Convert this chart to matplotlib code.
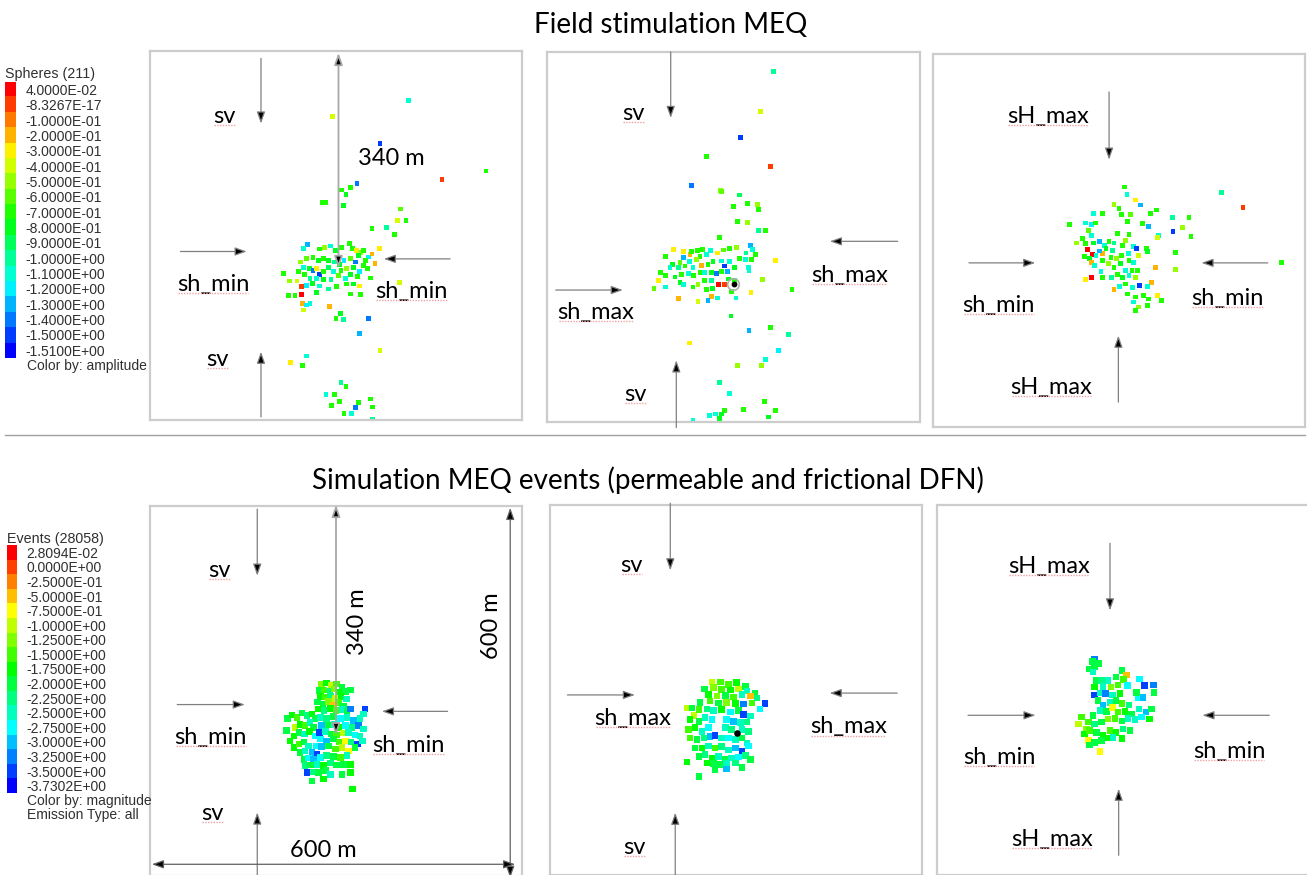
import numpy as np
import matplotlib
matplotlib.use("Agg")
import matplotlib.pyplot as plt
from matplotlib.colors import ListedColormap, BoundaryNorm, hsv_to_rgb
from matplotlib.lines import Line2D
from matplotlib.transforms import IdentityTransform

plt.rcParams["font.family"] = ["Lato", "DejaVu Sans"]

# ------------------------------------------------------------------
# Colour legends (top -> bottom as shown in the viewer)
# ------------------------------------------------------------------
field_levels = [4.0e-02, -8.3267e-17, -0.1, -0.2, -0.3, -0.4, -0.5, -0.6, -0.7,
                -0.8, -0.9, -1.0, -1.1, -1.2, -1.3, -1.4, -1.5, -1.51]
field_labels = ["4.0000E-02", "-8.3267E-17", "-1.0000E-01", "-2.0000E-01",
                "-3.0000E-01", "-4.0000E-01", "-5.0000E-01", "-6.0000E-01",
                "-7.0000E-01", "-8.0000E-01", "-9.0000E-01", "-1.0000E+00",
                "-1.1000E+00", "-1.2000E+00", "-1.3000E+00", "-1.4000E+00",
                "-1.5000E+00", "-1.5100E+00"]
sim_levels = [2.8094e-02, 0.0, -0.25, -0.5, -0.75, -1.0, -1.25, -1.5, -1.75,
              -2.0, -2.25, -2.5, -2.75, -3.0, -3.25, -3.5, -3.7302]
sim_labels = ["2.8094E-02", "0.0000E+00", "-2.5000E-01", "-5.0000E-01",
              "-7.5000E-01", "-1.0000E+00", "-1.2500E+00", "-1.5000E+00",
              "-1.7500E+00", "-2.0000E+00", "-2.2500E+00", "-2.5000E+00",
              "-2.7500E+00", "-3.0000E+00", "-3.2500E+00", "-3.5000E+00",
              "-3.7302E+00"]

# ------------------------------------------------------------------
# Event locations in each 600 m x 600 m view (x, depth-like y, value)
# ------------------------------------------------------------------
field_side = np.array([
    (254, 314, -1.3), (248, 321, -1.1), (274, 322, -0.7), (281, 319, -0.5),
    (291, 317, -1.1), (299, 324, -0.8), (309, 319, -0.7), (322, 313, -0.7),
    (326, 321, -0.7), (333, 324, -0.3), (339, 327, -0.5), (344, 324, -0.7),
    (336, 333, -0.8), (353, 335, -1.2), (358, 330, -0.2), (370, 321, -0.3),
    (363, 345, -0.2), (348, 340, -0.7), (331, 343, -1.4), (323, 337, -0.6),
    (313, 340, -1.2), (306, 347, -0.8), (297, 343, -1.0), (288, 340, -0.8),
    (280, 337, -0.7), (272, 341, -0.8), (263, 336, -0.7), (253, 337, -0.6),
    (243, 343, -0.5), (248, 352, -1.1), (257, 353, -0.8), (263, 357, -1.4),
    (269, 353, -0.3), (273, 363, -1.5), (280, 359, -0.7), (288, 352, -0.9),
    (296, 359, -1.1), (308, 357, -0.7), (317, 353, -0.5), (328, 352, -0.8),
    (338, 359, -1.2), (344, 349, -0.7), (335, 367, -0.7), (324, 363, -0.8),
    (315, 370, -1.1), (304, 365, -0.6), (292, 371, -1.0), (280, 371, -0.8),
    (269, 370, -1.1), (258, 370, -1.0), (249, 364, -0.7), (239, 359, -0.7),
    (215, 362, -0.7), (225, 374, -0.5), (237, 374, -0.4), (245, 383, 0.0),
    (252, 381, -1.2), (262, 378, -0.8), (274, 382, -1.1), (288, 387, -1.0),
    (301, 383, -0.7), (317, 379, -0.7), (328, 379, -0.8), (338, 382, -0.3),
    (355, 369, -0.7), (351, 353, -0.7), (223, 397, -0.7), (234, 398, -0.7),
    (245, 396, 0.04), (258, 410, -1.1), (246, 410, -0.2), (253, 413, -1.2),
    (248, 421, -0.4), (268, 393, -0.8), (289, 415, -0.2), (307, 427, -0.8),
    (300, 435, -0.7), (312, 437, -1.0), (340, 396, -0.7), (324, 395, -0.7),
    (353, 435, -1.4), (358, 288, -0.7), (382, 287, -1.0), (394, 298, -0.7),
    (417, 80, -1.1), (295, 106, -0.4), (371, 151, -1.5), (542, 195, -0.7),
    (471, 209, 0.0), (334, 215, -1.45), (309, 226, -0.7), (323, 222, -0.7),
    (316, 233, -0.8), (278, 247, -0.7), (284, 246, -0.7), (312, 251, -0.8),
    (404, 257, -0.6), (399, 276, -0.4), (413, 275, -0.7), (402, 377, -0.4),
    (338, 459, -1.3), (371, 487, -0.4), (226, 507, -0.3), (253, 496, -1.1),
    (246, 511, -0.7), (308, 539, -1.0), (316, 546, -0.7), (284, 559, -1.1),
    (298, 559, -0.7), (305, 570, -0.7), (293, 577, -0.7), (336, 572, -0.7),
    (355, 566, -0.7), (359, 579, -0.7), (331, 580, -1.4), (313, 589, -0.7),
    (325, 590, -1.1), (359, 599, -1.0),
])

field_front = np.array([
    (364, 31, -1.05), (343, 96, -0.4), (311, 138, -1.5), (257, 169, -0.7),
    (359, 186, 0.0), (233, 217, -1.4), (279, 224, -0.5), (281, 226, -0.6),
    (309, 232, -0.9), (300, 251, -0.7), (322, 246, -0.7), (339, 247, -0.5),
    (340, 255, -0.7), (306, 275, -0.7), (322, 276, -0.5), (340, 289, -1.0),
    (352, 289, -0.7), (296, 428, -0.8), (325, 451, -1.35), (360, 447, -0.7),
    (388, 458, -1.0), (229, 472, -0.3), (372, 484, -1.2), (352, 499, -1.1),
    (307, 508, -0.5), (345, 508, -0.5), (277, 536, -1.0), (293, 554, -1.1),
    (350, 567, -0.7), (368, 582, -0.7), (356, 592, -0.8), (316, 580, -0.7),
    (285, 582, -0.7), (281, 587, -0.8), (271, 587, -1.1), (262, 590, -1.1),
    (277, 594, -0.8), (235, 598, -1.1),
    (278, 301, -0.7), (203, 320, -0.3), (219, 324, -0.3), (230, 329, -0.2),
    (220, 333, -1.3), (191, 332, -0.7), (233, 323, -0.7), (242, 322, -0.7),
    (250, 320, -0.7), (263, 322, -1.1), (274, 326, -0.3), (284, 321, -0.6),
    (293, 319, -0.7), (305, 317, -0.5), (327, 314, -1.3), (330, 320, -1.1),
    (320, 326, -1.0), (335, 329, -0.7), (309, 335, -0.7), (319, 336, -1.1),
    (329, 336, -0.7), (246, 332, -0.7), (256, 329, -1.1), (240, 336, -0.5),
    (229, 340, -1.1), (214, 342, -0.6), (202, 345, -0.8), (198, 350, -1.1),
    (211, 350, -1.0), (222, 347, -0.7), (235, 349, -1.1), (249, 346, -0.2),
    (259, 345, -0.7), (267, 340, -0.8), (281, 339, -1.1), (286, 347, -1.5),
    (294, 340, -1.1), (301, 350, -0.8), (290, 356, -1.3), (281, 356, -0.7),
    (273, 359, -1.45), (265, 357, -0.8), (254, 357, -1.1), (246, 358, -0.7),
    (236, 362, -0.7), (227, 359, -1.1), (216, 361, -0.7), (206, 365, -0.8),
    (190, 362, -0.7), (183, 357, -0.7), (179, 370, -0.3), (172, 383, -0.6),
    (190, 381, -1.1), (214, 374, -0.8), (219, 377, -1.1), (235, 381, -0.7),
    (243, 377, -0.5), (254, 370, -0.7), (265, 370, -1.0), (276, 377, 0.04),
    (285, 377, 0.0), (292, 368, -0.8), (301, 370, -0.7), (257, 385, -0.7),
    (266, 383, -0.8), (297, 388, -0.7), (304, 399, -1.1), (265, 396, -0.2),
    (259, 403, -1.3), (274, 399, -1.1), (243, 404, -0.4), (211, 400, -0.2),
    (328, 390, -0.3), (325, 354, -1.1), (324, 350, -1.1), (347, 369, -0.5),
    (368, 338, -0.3), (394, 385, -0.7),
])

field_map = np.array([
    (309, 214, -0.7), (313, 226, -1.1), (327, 235, -0.3), (335, 243, -1.3),
    (292, 242, -0.5), (300, 249, -0.7), (273, 257, -0.7), (259, 256, -1.1),
    (304, 258, -0.7), (318, 258, -0.6), (351, 256, -0.7), (361, 251, -0.7),
    (314, 270, -0.7), (246, 272, -1.1), (255, 274, -1.2), (262, 272, -0.7),
    (220, 274, -0.7), (338, 273, -0.7), (347, 278, -1.3), (386, 263, -1.0),
    (413, 263, -0.7), (465, 223, -1.05), (500, 247, 0.0), (403, 279, -0.5),
    (387, 286, -1.5), (416, 294, -0.7), (364, 292, -1.1), (362, 295, -0.4),
    (391, 319, -0.7), (391, 347, -0.5), (562, 336, -0.7), (359, 344, -0.2),
    (353, 367, -0.2), (346, 374, -1.1), (333, 372, -1.5), (251, 284, -0.6),
    (255, 292, -1.1), (241, 297, -0.7), (232, 304, -0.5), (246, 305, -0.7),
    (259, 304, -0.8), (268, 302, -1.3), (276, 308, -1.1), (284, 301, -0.7),
    (292, 304, -1.0), (297, 289, -0.7), (316, 291, -0.7), (311, 300, -0.5),
    (306, 308, -0.7), (323, 309, -1.1), (328, 313, -1.5), (332, 324, -0.4),
    (344, 313, -0.7), (346, 318, -0.8), (249, 314, 0.04), (257, 323, 0.04),
    (244, 326, -0.7), (252, 329, -0.8), (263, 324, -1.1), (273, 321, -0.2),
    (268, 317, -1.3), (279, 313, -0.8), (289, 316, -1.0), (287, 327, -0.7),
    (296, 329, -0.5), (304, 324, -0.7), (315, 321, -1.1), (324, 335, -1.1),
    (316, 332, -0.7), (255, 335, -0.2), (260, 340, -1.1), (273, 332, -0.7),
    (283, 337, -0.5), (292, 343, -0.7), (303, 337, -0.8), (311, 348, -1.1),
    (321, 348, -0.7), (330, 348, -0.7), (271, 350, -1.1), (246, 363, -0.3),
    (255, 360, 0.04), (273, 360, -0.7), (288, 360, -1.0), (297, 355, -0.7),
    (306, 360, -0.8), (316, 356, -1.1), (327, 360, -0.5), (292, 379, -0.2),
    (301, 374, -1.1), (311, 370, -0.7), (322, 375, -1.1), (314, 386, -0.7),
    (327, 391, -0.7), (340, 388, -0.7), (323, 399, -1.1), (332, 407, -0.5),
    (327, 412, -0.7), (346, 404, -0.7), (348, 394, -0.7), (362, 388, -0.3),
    (368, 396, -0.7),
])

sim_side = np.array([
    (277, 289, -1.3), (285, 287, -1.8), (293, 291, -1.1), (301, 289, -1.5),
    (310, 294, -1.9), (323, 298, -1.9), (273, 299, -2.0), (281, 298, -1.6),
    (290, 301, -2.3), (297, 297, -1.2), (306, 302, -1.8), (315, 301, -2.0),
    (275, 309, -1.8), (283, 310, -1.4), (291, 308, -2.2), (299, 312, -1.1),
    (308, 309, -1.7), (317, 313, -2.5), (270, 318, -2.1), (279, 321, -1.9),
    (288, 317, -1.3), (296, 323, -0.6), (304, 319, -1.6), (312, 324, -2.0),
    (272, 329, -1.7), (281, 332, -2.2), (291, 328, -1.8), (300, 332, -1.4),
    (310, 330, -2.6), (318, 335, -2.0), (323, 329, -3.3), (347, 329, -3.4),
    (344, 337, -2.6), (222, 345, -2.0), (229, 339, -1.8), (237, 343, -1.6),
    (245, 336, -1.9), (253, 340, -2.2), (261, 337, -1.8), (266, 345, -2.0),
    (234, 359, -0.9), (242, 354, -1.7), (250, 356, -1.5), (258, 351, -2.4),
    (264, 359, -1.9), (232, 373, -1.8), (240, 367, -2.0), (249, 370, -2.6),
    (257, 366, -1.8), (266, 373, -2.7), (275, 343, -2.6), (285, 345, -2.2),
    (296, 341, -1.9), (307, 345, -2.8), (318, 343, -2.4), (328, 348, -3.0),
    (339, 345, -2.6), (277, 356, -2.9), (288, 355, -2.0), (297, 354, -2.5),
    (304, 359, -1.7), (315, 356, -2.8), (326, 359, -2.2), (336, 356, -3.3),
    (344, 362, -2.6), (273, 367, -3.5), (283, 366, -2.4), (293, 370, -2.0),
    (301, 371, -1.4), (312, 368, -1.1), (320, 367, -2.6), (331, 371, -2.8),
    (339, 373, -2.5), (275, 378, -2.7), (285, 381, -3.1), (296, 378, -1.9),
    (306, 383, -1.6), (315, 381, -0.8), (324, 383, -2.2), (335, 386, -3.6),
    (343, 381, -2.5), (268, 389, -2.8), (277, 390, -3.0), (288, 389, -2.0),
    (299, 394, -1.6), (310, 392, -1.0), (320, 397, -0.7), (331, 392, -2.0),
    (232, 392, -1.8), (240, 386, -1.6), (248, 383, -2.0), (256, 389, -2.6),
    (242, 400, -1.9), (250, 397, -2.4), (261, 400, -3.0), (269, 402, -3.4),
    (248, 411, -2.0), (256, 409, -2.7), (264, 411, -3.0), (275, 408, -2.8),
    (285, 405, -2.3), (296, 406, -1.9), (307, 408, -1.5), (318, 405, -2.4),
    (250, 421, -2.2), (259, 420, -2.0), (269, 419, -2.5), (280, 421, -1.8),
    (291, 417, -2.2), (301, 420, -1.9), (312, 419, -2.0), (323, 419, -1.7),
    (253, 432, -3.6), (263, 431, -2.3), (272, 432, -1.9), (283, 429, -2.0),
    (291, 435, -2.6), (310, 435, -1.9), (261, 446, -2.1), (280, 443, -1.8),
    (323, 432, -1.7), (327, 459, -1.8), (226, 381, -1.8), (220, 364, -2.0),
])

sim_front = np.array([
    (261, 287, -0.9), (275, 287, -1.6), (288, 291, -1.4), (301, 288, -1.8),
    (315, 294, -1.9), (249, 298, -2.0), (264, 296, -1.2), (277, 299, -1.5),
    (291, 300, -1.8), (304, 298, -1.1), (318, 302, -2.4), (331, 306, -1.9),
    (256, 307, -1.7), (269, 310, -1.3), (283, 309, -2.0), (296, 311, -1.6),
    (310, 307, -2.6), (323, 310, -0.5), (334, 313, -2.2), (242, 320, -2.1),
    (258, 318, -1.4), (272, 321, -1.9), (285, 320, -1.2), (299, 322, -1.7),
    (312, 323, -3.3), (326, 321, -1.5), (347, 322, -3.6), (339, 331, -2.7),
    (221, 329, -1.0), (232, 341, -0.9), (229, 329, -1.9), (240, 332, -1.6),
    (253, 331, -2.3), (264, 333, -2.6), (277, 332, -1.8), (291, 336, -2.8),
    (304, 333, -2.0), (312, 340, -3.5), (323, 342, -2.6), (226, 348, -1.7),
    (240, 351, -2.0), (250, 345, -2.5), (261, 348, -2.8), (285, 348, -2.7),
    (296, 351, -3.0), (307, 353, -2.5), (318, 352, -2.2), (223, 364, -1.6),
    (234, 361, -1.8), (245, 367, -2.4), (256, 361, -2.7), (283, 361, -2.6),
    (293, 364, -2.2), (310, 364, -2.6), (320, 367, -2.3), (226, 378, -1.4),
    (237, 380, -1.9), (248, 378, -2.2), (258, 375, -3.0), (266, 374, -3.6),
    (277, 378, -2.5), (288, 378, -2.8), (299, 380, -2.4), (310, 378, -2.0),
    (318, 386, -2.6), (234, 394, -2.0), (245, 394, -1.7), (256, 391, -2.4),
    (266, 394, -1.5), (277, 392, -2.2), (288, 397, -2.6), (299, 394, -2.9),
    (310, 399, -3.4), (320, 391, -2.7), (240, 408, -1.9), (250, 405, -2.2),
    (261, 410, -1.8), (272, 408, -2.5), (283, 412, -2.0), (293, 410, -2.4),
    (304, 409, -2.7), (315, 406, -2.3), (323, 413, -2.0), (253, 418, -1.8),
    (264, 419, -2.1), (275, 421, -1.9), (285, 418, -2.6), (299, 418, -2.2),
    (310, 426, -2.0), (285, 428, -3.1), (266, 429, -1.9), (221, 417, -1.8),
    (240, 440, -1.9),
])

sim_map = np.array([
    (254, 250, -3.3), (251, 254, -2.0), (246, 266, -2.1), (254, 263, -1.9),
    (261, 257, -2.0), (252, 271, -2.6), (298, 268, -2.0), (306, 276, -0.5),
    (289, 279, -1.9), (301, 283, -1.6), (327, 282, -2.8), (335, 293, -3.5),
    (349, 292, -3.3), (350, 304, -2.0), (257, 285, -1.9), (265, 285, -2.3),
    (276, 285, -2.6), (254, 295, -1.8), (268, 294, -2.6), (281, 295, -1.3),
    (292, 292, -1.5), (307, 293, -2.7), (254, 308, -3.5), (264, 305, -2.6),
    (272, 306, -3.2), (283, 308, -2.4), (295, 306, -1.7), (324, 312, -2.8),
    (332, 312, -3.0), (322, 304, -2.0), (260, 317, -2.0), (268, 324, -3.1),
    (279, 320, -2.6), (289, 317, -1.9), (298, 322, -1.4), (310, 324, -2.2),
    (263, 333, -2.6), (273, 335, -2.0), (283, 328, -0.7), (292, 336, -1.5),
    (303, 335, -1.8), (314, 339, -1.9), (326, 331, -2.6), (337, 336, -3.0),
    (346, 331, -1.9), (343, 347, -1.7), (233, 344, -1.5), (244, 352, -1.4),
    (252, 341, -1.9), (241, 363, -1.3), (254, 355, -2.2), (265, 352, -1.9),
    (276, 347, -1.2), (287, 346, -1.6), (298, 350, -2.1), (308, 346, -2.4),
    (319, 348, -2.6), (330, 344, -2.8), (238, 371, -1.8), (246, 366, -1.6),
    (257, 369, -2.0), (268, 374, -1.7), (279, 366, -1.4), (289, 369, -1.8),
    (300, 363, -2.3), (311, 366, -2.0), (244, 382, -0.8), (254, 385, -1.9),
    (265, 382, -2.0), (276, 378, -1.8), (284, 377, -2.5), (298, 379, -1.7),
    (263, 400, -0.8), (246, 389, -1.9), (228, 355, -1.1),
])

injection_front = (300, 377)
injection_sim = (301, 370)


def level_colours(n):
    # viewer legend runs red -> blue in equal hue steps
    hues = np.linspace(0.0, 2.0 / 3.0, n)
    return hsv_to_rgb(np.column_stack([hues, np.ones(n), np.ones(n)]))


def level_norm(levels, colours):
    asc = np.array(levels)[::-1]
    cols = colours[::-1]
    mids = (asc[1:] + asc[:-1]) / 2.0
    bounds = np.concatenate([[asc[0] - 10], mids, [asc[-1] + 10]])
    return ListedColormap(cols), BoundaryNorm(bounds, len(cols))


def setup_panel(ax):
    ax.set_xlim(0, 600)
    ax.set_ylim(600, 0)
    ax.set_xticks([])
    ax.set_yticks([])
    for sp in ax.spines.values():
        sp.set_color("#cccccc")
        sp.set_linewidth(1.6)


def scatter_events(ax, pts, levels, colours, size):
    cmap, norm = level_norm(levels, colours)
    ax.scatter(pts[:, 0], pts[:, 1], c=pts[:, 2], cmap=cmap, norm=norm,
               marker="s", s=size, linewidths=0, zorder=2)


stress_labels = []


def stress(ax, tail, tip, label, txy):
    ax.annotate("", xy=tip, xytext=tail, annotation_clip=False,
                arrowprops=dict(arrowstyle="-|>,head_length=0.7,head_width=0.25",
                                ec="#808080", fc="black", lw=0.9,
                                mutation_scale=10, shrinkA=0, shrinkB=0),
                zorder=3)
    t = ax.text(txy[0], txy[1], label, ha="center", va="center", fontsize=17,
                zorder=4)
    stress_labels.append(t)


def dimension(ax, a, b, colour="#a8a8a8", lw=1.3):
    ax.annotate("", xy=b, xytext=a, annotation_clip=False,
                arrowprops=dict(arrowstyle="<|-|>,head_length=0.7,head_width=0.25",
                                ec=colour, fc="black", lw=lw,
                                mutation_scale=10, shrinkA=0, shrinkB=0),
                zorder=3)


def legend_bar(fig, rect, labels, colours, title, notes, title_y, notes_y):
    cax = fig.add_axes(rect)
    cax.imshow(np.arange(len(labels))[:, None], cmap=ListedColormap(colours),
               aspect="auto", interpolation="nearest")
    cax.set_xticks([])
    cax.yaxis.tick_right()
    cax.set_yticks(range(len(labels)), labels)
    cax.tick_params(length=0, pad=7, labelsize=10, labelcolor="#303030")
    for lab in cax.get_yticklabels():
        lab.set_family(["Liberation Sans", "DejaVu Sans"])
    for sp in cax.spines.values():
        sp.set_visible(False)
    fig.text(rect[0], title_y, title, fontsize=10.3, color="#303030",
             va="center", family=["Liberation Sans", "DejaVu Sans"])
    for k, note in enumerate(notes):
        fig.text(0.0207, notes_y - k * 0.0155, note, fontsize=10, color="#303030",
                 va="center", family=["Liberation Sans", "DejaVu Sans"])


W, H = 1307, 875
fig = plt.figure(figsize=(W / 100, H / 100), dpi=100)

field_cols = level_colours(len(field_levels))
sim_cols = level_colours(len(sim_levels))

# ---------------- top row: field stimulation ----------------
ax1 = fig.add_axes([150 / W, 1 - 420 / H, 372 / W, 369 / H])
ax2 = fig.add_axes([547 / W, 1 - 422 / H, 373 / W, 370 / H])
ax3 = fig.add_axes([933 / W, 1 - 427 / H, 372 / W, 373 / H])
for ax in (ax1, ax2, ax3):
    setup_panel(ax)

scatter_events(ax1, field_side, field_levels, field_cols, 12)
stress(ax1, (179, 12), (179, 118), "sv", (120, 107))
stress(ax1, (179, 595), (179, 489), "sv", (109, 502))
stress(ax1, (49, 326), (156, 326), "sh_min", (102, 380))
stress(ax1, (484, 338), (377, 338), "sh_min", (422, 391))
dimension(ax1, (304, 3), (304, 353))
ax1.text(390, 175, "340 m", ha="center", va="center", fontsize=17)

scatter_events(ax2, field_front, field_levels, field_cols, 12)
ax2.scatter([injection_front[0]], [injection_front[1]], s=70, facecolors="none",
            edgecolors="#b0b0b0", linewidths=1.2, zorder=3)
ax2.scatter([injection_front[0]], [injection_front[1]], s=10, c="black", zorder=4)
stress(ax2, (199, 0), (199, 107), "sv", (139, 99))
stress(ax2, (208, 609), (208, 500), "sv", (142, 556))
stress(ax2, (14, 386), (122, 386), "sh_max", (79, 423))
stress(ax2, (564, 307), (455, 307), "sh_max", (487, 362))

scatter_events(ax3, field_map, field_levels, field_cols, 12)
stress(ax3, (284, 61), (284, 170), "sH_max", (186, 100))
stress(ax3, (299, 560), (299, 453), "sH_max", (191, 536))
stress(ax3, (58, 336), (165, 336), "sh_min", (106, 404))
stress(ax3, (540, 336), (433, 336), "sh_min", (475, 394))

# ---------------- bottom row: simulation ----------------
ax4 = fig.add_axes([150 / W, 1 - 876 / H, 372 / W, 370 / H])
ax5 = fig.add_axes([550 / W, 1 - 875 / H, 372 / W, 370 / H])
ax6 = fig.add_axes([937 / W, 1 - 875 / H, 372 / W, 370 / H])
for ax in (ax4, ax5, ax6):
    setup_panel(ax)

scatter_events(ax4, sim_side, sim_levels, sim_cols, 22)
stress(ax4, (173, 5), (173, 113), "sv", (112, 104))
stress(ax4, (173, 610), (173, 497), "sv", (101, 498))
stress(ax4, (44, 322), (153, 322), "sh_min", (98, 376))
stress(ax4, (480, 333), (374, 333), "sh_min", (417, 388))
dimension(ax4, (300, -2), (300, 372))
ax4.text(334, 188, "340 m", ha="center", va="center", fontsize=17, rotation=90)
dimension(ax4, (581, 3), (581, 603), colour="#606060", lw=0.9)
ax4.text(551, 194, "600 m", ha="center", va="center", fontsize=17, rotation=90)
dimension(ax4, (3, 581), (589, 581), colour="#606060", lw=0.9)
ax4.text(280, 558, "600 m", ha="center", va="center", fontsize=17)

scatter_events(ax5, sim_front, sim_levels, sim_cols, 22)
ax5.scatter([injection_sim[0]], [injection_sim[1]], s=14, c="black", zorder=4)
stress(ax5, (194, -3), (194, 106), "sv", (132, 98))
stress(ax5, (202, 610), (202, 499), "sv", (136, 556))
stress(ax5, (28, 308), (137, 308), "sh_max", (134, 347))
stress(ax5, (560, 305), (451, 305), "sh_max", (482, 360))

scatter_events(ax6, sim_map, sim_levels, sim_cols, 22)
stress(ax6, (279, 62), (279, 171), "sH_max", (180, 100))
stress(ax6, (293, 568), (293, 460), "sH_max", (186, 542))
stress(ax6, (50, 341), (159, 341), "sh_min", (100, 409))
stress(ax6, (536, 341), (428, 341), "sh_min", (471, 400))

# ---------------- titles, separator, legends ----------------
fig.text(671 / W, 1 - 25 / H, "Field stimulation MEQ", ha="center", va="center",
         fontsize=20)
fig.text(648 / W, 1 - 480 / H,
         "Simulation MEQ events (permeable and frictional DFN)",
         ha="center", va="center", fontsize=20)
fig.add_artist(Line2D([5 / W, 1305 / W], [1 - 435 / H, 1 - 435 / H],
                      color="#a0a0a0", lw=1.0, transform=fig.transFigure))

legend_bar(fig, [5 / W, 1 - 358 / H, 11 / W, 276 / H], field_labels, field_cols,
           "Spheres (211)", ["Color by: amplitude"], 1 - 74 / H, 1 - 366 / H)
legend_bar(fig, [7 / W, 1 - 793 / H, 10 / W, 248 / H], sim_labels, sim_cols,
           "Events (28058)", ["Color by: magnitude", "Emission Type: all"],
           1 - 539 / H, 1 - 801 / H)

# red spell-check squiggles under the stress labels
fig.canvas.draw()
renderer = fig.canvas.get_renderer()
for t in stress_labels:
    bb = t.get_window_extent(renderer)
    fig.add_artist(Line2D([bb.x0 + 1, bb.x1 - 1], [bb.y0 + 2, bb.y0 + 2],
                          color="#f2a0a0", lw=1.0, ls=(0, (1, 1)),
                          transform=IdentityTransform()))

fig.savefig("out.png", dpi=100)
